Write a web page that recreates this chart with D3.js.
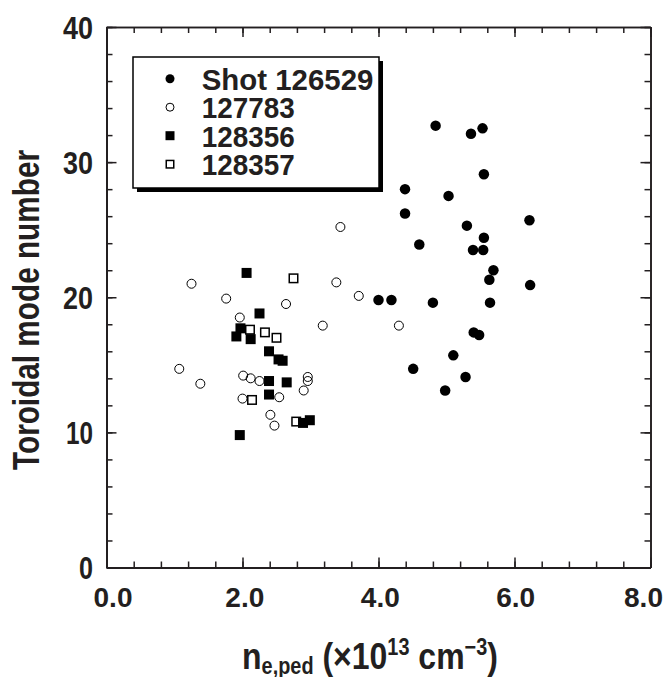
<!DOCTYPE html>
<html>
<head>
<meta charset="utf-8">
<script src="https://cdn.jsdelivr.net/npm/d3@7"></script>
<style>
  body { margin: 0; background: #fff; }
  svg text { font-family: "Liberation Sans", Arial, Helvetica, sans-serif; font-weight: bold; fill: #231f20; }
</style>
</head>
<body>
<div id="chart-container"></div>
<script>
// ----- DATA -----
// [n_e,ped (1e13 cm^-3), toroidal mode number]
let shot126529 = [
  [4.84, 32.7], [5.36, 32.1], [5.53, 32.5], [5.55, 29.1], [4.39, 28.0],
  [5.03, 27.5], [4.39, 26.2], [6.22, 25.7], [5.30, 25.3], [4.60, 23.9],
  [5.55, 24.4], [5.39, 23.5], [5.54, 23.5], [5.69, 22.0], [5.63, 21.3],
  [6.23, 20.9], [4.00, 19.8], [4.19, 19.8], [4.80, 19.6], [5.64, 19.6],
  [5.40, 17.4], [5.48, 17.2], [4.51, 14.7], [5.10, 15.7], [5.28, 14.1],
  [4.98, 13.1]
];
let shot127783 = [
  [1.25, 21.0], [1.76, 19.9], [1.96, 18.5], [2.64, 19.5], [3.18, 17.9],
  [3.38, 21.1], [3.44, 25.2], [3.71, 20.1], [4.30, 17.9], [1.07, 14.7],
  [1.38, 13.6], [2.01, 14.2], [2.12, 14.0], [2.25, 13.8], [2.00, 12.5],
  [2.54, 12.6], [2.41, 11.3], [2.47, 10.5], [2.96, 14.1], [2.96, 13.8],
  [2.90, 13.1]
];
let shot128356 = [
  [2.06, 21.8], [2.25, 18.8], [1.97, 17.7], [1.91, 17.1], [2.12, 16.9],
  [2.39, 16.0], [2.53, 15.4], [2.59, 15.3], [2.39, 13.8], [2.65, 13.7],
  [2.39, 12.8], [1.96, 9.8], [2.89, 10.7], [2.99, 10.9]
];
let shot128357 = [
  [2.75, 21.4], [2.11, 17.6], [2.33, 17.4], [2.50, 17.0], [2.14, 12.4],
  [2.79, 10.8]
];

let legendLabels = ["Shot 126529", "127783", "128356", "128357"];
let xMajorTicks = [0, 2, 4, 6, 8];
let yMajorTicks = [0, 10, 20, 30, 40];

// ----- LAYOUT -----
let width = 669, height = 677;
let margin = { top: 27, right: 18.5, bottom: 109.5, left: 106.5 };
let w = width - margin.left - margin.right,
    h = height - margin.top - margin.bottom;

let svg = d3.select("#chart-container")
  .append("svg")
  .attr("width", width)
  .attr("height", height);

let g = svg.append("g")
  .attr("transform", `translate(${margin.left},${margin.top})`);

let xScale = d3.scaleLinear().domain([0, 8]).range([0, w]);
let yScale = d3.scaleLinear().domain([0, 40]).range([h, 0]);

let xMinor = d3.range(0, 21).map(i => i * 0.4);
let yMinor = d3.range(0, 21).map(i => i * 2);

// the original uses a condensed bold face: squeeze glyphs to a given width
function squeeze(sel, len) {
  sel.attr("textLength", len).attr("lengthAdjust", "spacingAndGlyphs");
}

function styleAxis(sel, domainWidth) {
  sel.select(".domain").attr("stroke", "#231f20").attr("stroke-width", domainWidth);
  sel.selectAll(".tick line").attr("stroke", "#231f20").attr("stroke-width", 1.5);
}

// ----- AXES (ticks point inward) -----
// bottom
g.append("g").attr("transform", `translate(0,${h})`)
  .call(d3.axisBottom(xScale).tickValues(xMinor).tickSize(-6).tickSizeOuter(0).tickFormat(""))
  .call(s => styleAxis(s, 2));
let xAxis = g.append("g").attr("transform", `translate(0,${h})`)
  .call(d3.axisBottom(xScale).tickValues(xMajorTicks).tickSize(-10).tickSizeOuter(0).tickFormat(d3.format(".1f")))
  .call(s => styleAxis(s, 2));
let xShift = { 0: 6, 2: 1.8, 4: 1.3, 6: 0.7, 8: -7.5 };
xAxis.selectAll("text")
  .attr("x", d => xShift[d])
  .attr("y", 39.5).attr("dy", 0)
  .style("font-size", "28px")
  .call(s => squeeze(s, 39));

// top
g.append("g")
  .call(d3.axisTop(xScale).tickValues(xMinor).tickSize(-6).tickSizeOuter(0).tickFormat(""))
  .call(s => styleAxis(s, 1.6));
g.append("g")
  .call(d3.axisTop(xScale).tickValues(xMajorTicks).tickSize(-10).tickSizeOuter(0).tickFormat(""))
  .call(s => styleAxis(s, 1.6));

// left
g.append("g")
  .call(d3.axisLeft(yScale).tickValues(yMinor).tickSize(-6).tickSizeOuter(0).tickFormat(""))
  .call(s => styleAxis(s, 2));
let yAxis = g.append("g")
  .call(d3.axisLeft(yScale).tickValues(yMajorTicks).tickSize(-10).tickSizeOuter(0).tickFormat(d3.format("d")))
  .call(s => styleAxis(s, 2));
yAxis.selectAll("text")
  .attr("x", -13.5).attr("dy", "0.36em")
  .style("font-size", "31px")
  .each(function(d) {
    squeeze(d3.select(this), d === 0 ? 14 : (d === 10 ? 27 : 30));
  });

// right
g.append("g").attr("transform", `translate(${w},0)`)
  .call(d3.axisRight(yScale).tickValues(yMinor).tickSize(-6).tickSizeOuter(0).tickFormat(""))
  .call(s => styleAxis(s, 1.6));
g.append("g").attr("transform", `translate(${w},0)`)
  .call(d3.axisRight(yScale).tickValues(yMajorTicks).tickSize(-10).tickSizeOuter(0).tickFormat(""))
  .call(s => styleAxis(s, 1.6));

// ----- AXIS LABELS -----
let xLabel = g.append("text")
  .style("text-anchor", "middle")
  .style("font-size", "37px");
xLabel.append("tspan").text("n");
xLabel.append("tspan").attr("dy", 5).style("font-size", "23px").text("e,ped");
xLabel.append("tspan").attr("dy", -5).text(" (\u00d710");
xLabel.append("tspan").attr("dy", -14).style("font-size", "23px").text("13");
xLabel.append("tspan").attr("dy", 14).text(" cm");
xLabel.append("tspan").attr("dy", -14).style("font-size", "23px").text("\u22123");
xLabel.append("tspan").attr("dy", 14).text(")");
let xLabelWidth = xLabel.node().getBBox().width;
xLabel.attr("transform", `translate(${w / 2 - 8.5},${h + 101.5}) scale(${256 / xLabelWidth},1)`);

g.append("text")
  .attr("transform", `translate(${39 - margin.left},${310 - margin.top}) rotate(-90)`)
  .style("text-anchor", "middle")
  .style("font-size", "36px")
  .text("Toroidal mode number")
  .call(s => squeeze(s, 320));

// ----- MARKERS -----
function drawMarkers(sel, type, size) {
  if (type === "filledCircle") {
    sel.append("circle").attr("r", size / 2).attr("fill", "#000");
  } else if (type === "openCircle") {
    sel.append("circle").attr("r", size / 2 - 0.5).attr("fill", "none")
      .attr("stroke", "#000").attr("stroke-width", 1);
  } else if (type === "filledSquare") {
    sel.append("rect").attr("x", -size / 2).attr("y", -size / 2)
      .attr("width", size).attr("height", size).attr("fill", "#000");
  } else {
    sel.append("rect").attr("x", -size / 2 + 0.75).attr("y", -size / 2 + 0.75)
      .attr("width", size - 1.5).attr("height", size - 1.5).attr("fill", "none")
      .attr("stroke", "#000").attr("stroke-width", 1.5);
  }
}

let series = [
  { data: shot127783, type: "openCircle", size: 10 },
  { data: shot128356, type: "filledSquare", size: 10 },
  { data: shot128357, type: "openSquare", size: 10 },
  { data: shot126529, type: "filledCircle", size: 10.5 }
];

series.forEach(s => {
  g.append("g").selectAll("g")
    .data(s.data)
    .join("g")
    .attr("transform", d => `translate(${xScale(d[0])},${yScale(d[1])})`)
    .call(sel => drawMarkers(sel, s.type, s.size));
});

// ----- LEGEND -----
let legend = g.append("g").attr("transform", "translate(26.5,30)");
legend.append("rect")
  .attr("x", 4).attr("y", 4).attr("width", 246).attr("height", 131)
  .attr("fill", "#000");
legend.append("rect")
  .attr("x", 0).attr("y", 0).attr("width", 246).attr("height", 131)
  .attr("fill", "#fff").attr("stroke", "#000").attr("stroke-width", 1.5);

let legendTypes = ["filledCircle", "openCircle", "filledSquare", "openSquare"];
let legendWidths = [171.7, 93, 93, 93];
legendLabels.forEach((label, i) => {
  let row = legend.append("g").attr("transform", `translate(37,${21.7 + i * 28.5})`);
  drawMarkers(row, legendTypes[i], 9);
  row.append("text")
    .attr("x", 31.7)
    .attr("y", 11)
    .style("font-size", "30px")
    .text(label)
    .call(s => squeeze(s, legendWidths[i]));
});
</script>
</body>
</html>
